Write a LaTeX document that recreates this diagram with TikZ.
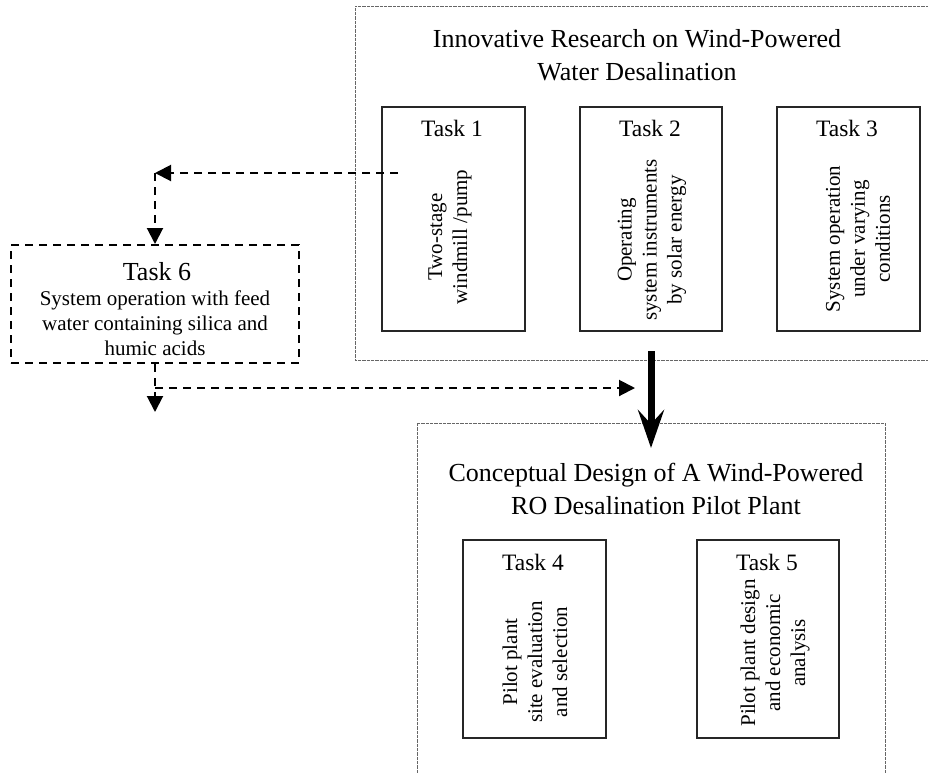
\documentclass[tikz,border=0pt]{standalone}
\usepackage{fontspec}
\setmainfont{Liberation Serif}
\usetikzlibrary{arrows.meta}
\begin{document}
\begin{tikzpicture}[x=1pt,y=-1pt,
  outerbox/.style={draw=black!60, line width=0.9pt, dash pattern=on 0.8pt off 0.5pt, inner sep=0pt},
  taskbox/.style={draw=black!85, line width=1.2pt, inner sep=0pt},
  dashbox/.style={draw=black, line width=2pt, dash pattern=on 8pt off 6pt, inner sep=0pt},
  dasharrow/.style={line width=2pt, dash pattern=on 8pt off 6pt, -{Triangle[length=16pt,width=16pt]}},
  bigarrow/.style={line width=7pt, -{Stealth[length=38pt,width=26pt,inset=14pt]}},
  title/.style={font=\fontsize{26}{33}\selectfont, align=center, inner sep=0pt},
  tasklabel/.style={font=\fontsize{23.5}{28}\selectfont, inner sep=0pt},
  vtext/.style={font=\fontsize{21}{25}\selectfont, align=center, rotate=90, inner sep=0pt},
  bodytext/.style={font=\fontsize{21}{25}\selectfont, align=center, inner sep=0pt}
]
\useasboundingbox (0,0) rectangle (928,772);
\clip (0,0) rectangle (928,772);

% research block
\node (research) [outerbox, minimum width=580pt, minimum height=354pt] at (645,183) {};
\node (rtitle) [title] at (637,55) {Innovative Research on Wind-Powered\\Water Desalination};

\node (t1) [taskbox, minimum width=143pt, minimum height=224pt] at (453.5,219) {};
\node (t2) [taskbox, minimum width=142pt, minimum height=224pt] at (651,219) {};
\node (t3) [taskbox, minimum width=143pt, minimum height=224pt] at (848.5,219) {};
\node (t1l) [tasklabel] at (452,128) {Task 1};
\node (t2l) [tasklabel] at (650,128) {Task 2};
\node (t3l) [tasklabel] at (847,128) {Task 3};
\node (t1t) [vtext] at (450,237) {Two-stage\\windmill /pump};
\node (t2t) [vtext] at (652,240) {Operating\\system instruments\\by solar energy};
\node (t3t) [vtext] at (858,239) {System operation\\under varying\\conditions};

% design block
\node (design) [outerbox, minimum width=468pt, minimum height=367pt] at (651,606.5) {};
\node (dtitle) [title] at (656,489) {Conceptual Design of A Wind-Powered\\RO Desalination Pilot Plant};

\node (t4) [taskbox, minimum width=143pt, minimum height=198pt] at (534.5,639) {};
\node (t5) [taskbox, minimum width=142pt, minimum height=198pt] at (768,639) {};
\node (t4l) [tasklabel] at (533,562) {Task 4};
\node (t5l) [tasklabel] at (767,562) {Task 5};
\node (t4t) [vtext] at (535,662) {Pilot plant\\site evaluation\\and selection};
\node (t5t) [vtext] at (775,653) {Pilot plant design\\and economic\\analysis};

% task 6 side block
\node (t6) [dashbox, minimum width=288pt, minimum height=118pt] at (155,304) {};
\node (t6l) [font=\fontsize{26}{30}\selectfont, inner sep=0pt] at (157,272) {Task 6};
\node (t6t) [bodytext] at (155,323) {System operation with feed\\water containing silica and\\humic acids};

% connectors
\coordinate (fromT1) at (398,173);
\coordinate (corner) at (155,173);
\draw[dasharrow] (fromT1) -- (corner);
\draw[dasharrow] (corner) -- (t6.north);

\coordinate (down6) at (155,412);
\coordinate (branch) at (155,388);
\coordinate (toDesign) at (635,388);
\draw[dasharrow] (t6.south) -- (down6);
\draw[dasharrow] (branch) -- (toDesign);

\coordinate (mainStart) at (651,351);
\coordinate (mainEnd) at (651,448);
\draw[bigarrow] (mainStart) -- (mainEnd);
\end{tikzpicture}
\end{document}
